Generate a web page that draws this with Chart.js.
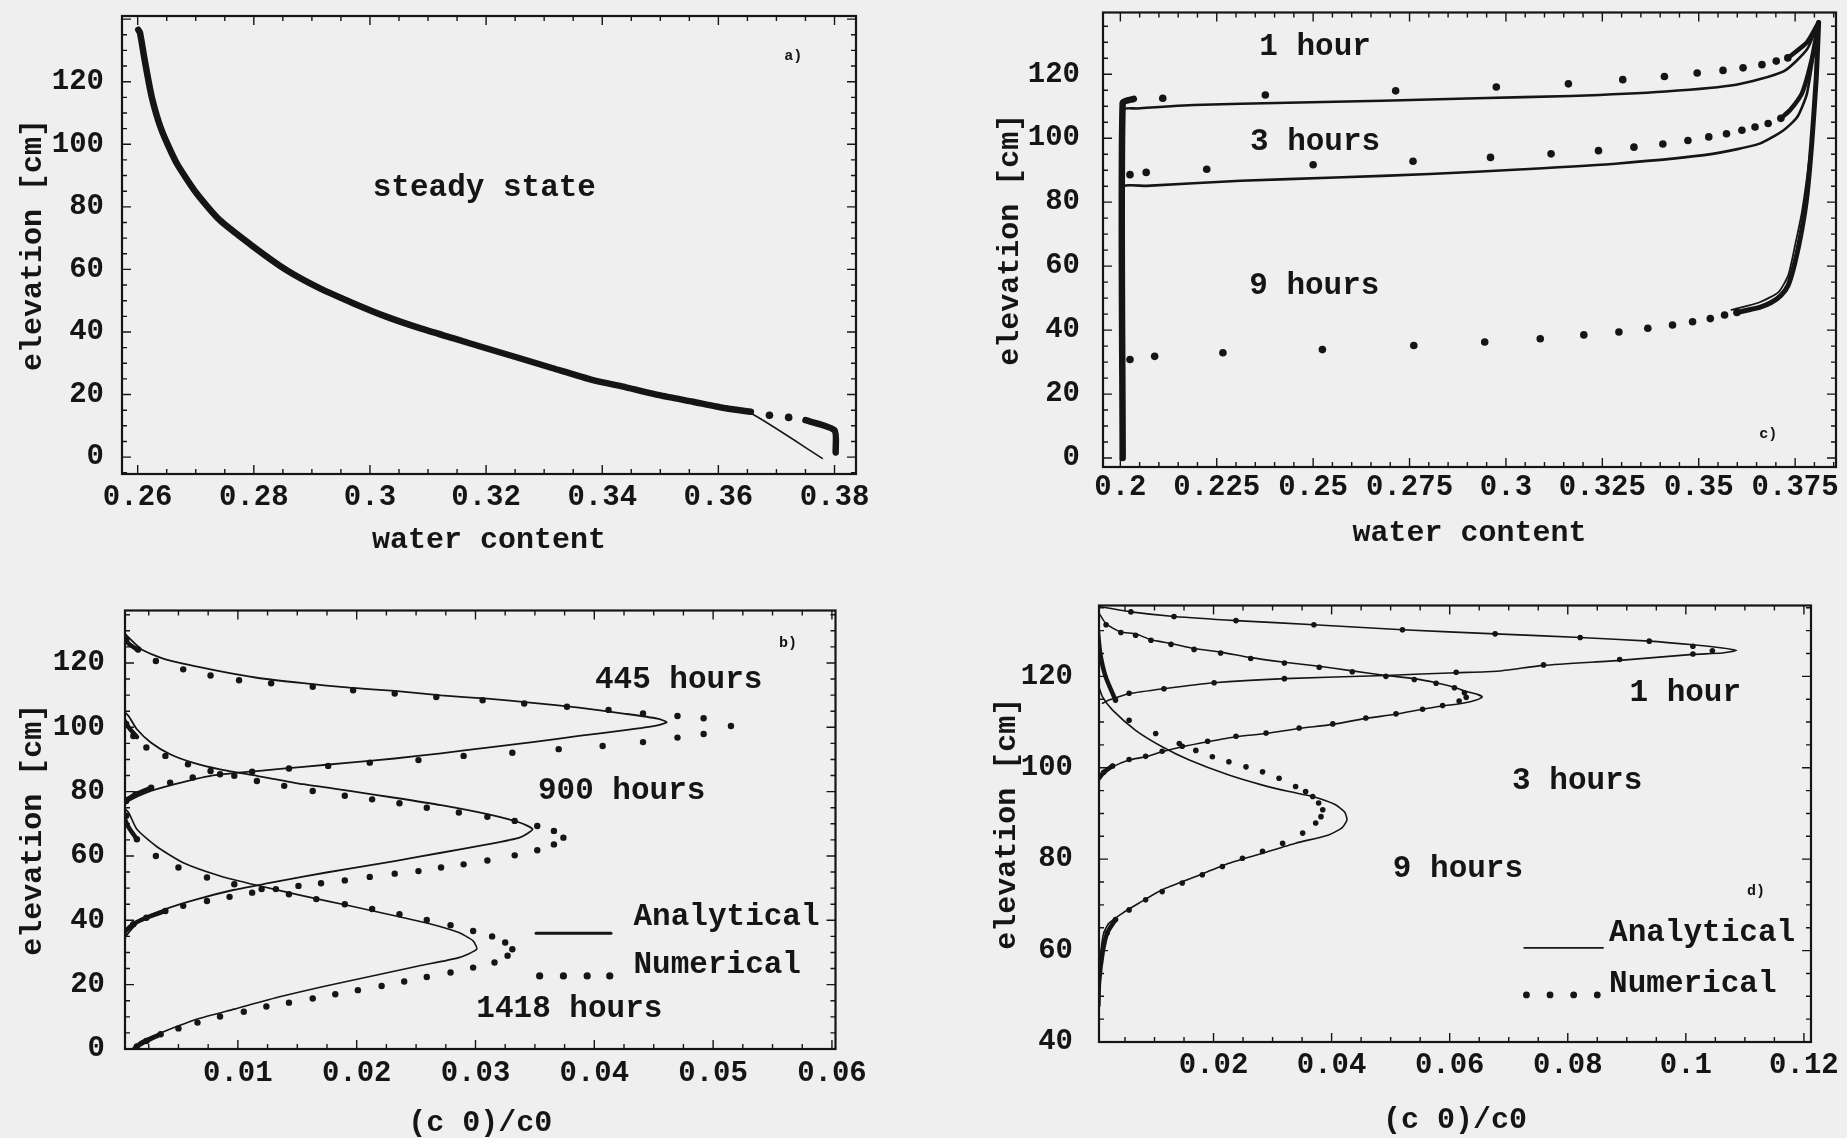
<!DOCTYPE html>
<html>
<head>
<meta charset="utf-8">
<script src="https://cdn.jsdelivr.net/npm/chart.js@4.4.1/dist/chart.umd.min.js"></script>
<style>
  html, body { margin: 0; padding: 0; width: 1847px; height: 1138px; overflow: hidden; background: #efefef; }
  canvas { position: absolute; }
</style>
</head>
<body>
<canvas id="pa" width="940" height="575" style="left:0;top:0"></canvas>
<canvas id="pc" width="887" height="575" style="left:960px;top:0"></canvas>
<canvas id="pb" width="940" height="563" style="left:0;top:575px"></canvas>
<canvas id="pd" width="887" height="563" style="left:960px;top:575px"></canvas>
<script>
// ---- a) steady state: water content vs elevation
const aXTicks = [0.26, 0.28, 0.30, 0.32, 0.34, 0.36, 0.38];
const aYTicks = [0, 20, 40, 60, 80, 100, 120];
const aAnalytical = [[0.2601,136.6],[0.2604,135.6],[0.2612,127.0],[0.2624,115.3],[0.2641,104.6],[0.2667,94.0],[0.2701,84.4],[0.2741,75.8],[0.2799,67.3],[0.2856,59.8],[0.2913,54.0],[0.2971,49.2],[0.3028,44.9],[0.3086,41.2],[0.3143,38.0],[0.3200,34.8],[0.3258,31.6],[0.3315,28.4],[0.3384,24.6],[0.3441,22.3],[0.3498,19.8],[0.3556,17.7],[0.3613,15.6],[0.3656,14.0],[0.3779,-0.4]];
const aNumBand = [[0.2601,136.6],[0.2604,135.6],[0.2612,127.0],[0.2624,115.3],[0.2641,104.6],[0.2667,94.0],[0.2701,84.4],[0.2741,75.8],[0.2799,67.3],[0.2856,59.8],[0.2913,54.0],[0.2971,49.2],[0.3028,44.9],[0.3086,41.2],[0.3143,38.0],[0.3200,34.8],[0.3258,31.6],[0.3315,28.4],[0.3384,24.6],[0.3441,22.3],[0.3498,19.8],[0.3556,17.7],[0.3613,15.6],[0.3656,14.5]];
const aNumDots = [[0.3688,13.4],[0.3721,12.7]];
const aNumFoot = [[0.3750,11.8],[0.3800,8.6],[0.3802,1.5]];
const aNotes = [["steady state", 0.3197, 85.9, 31], ["a)", 0.3729, 128.2, 15]];

// ---- c) water content at 1, 3, 9 hours
const cXTicks = [0.2, 0.225, 0.25, 0.275, 0.3, 0.325, 0.35, 0.375];
const cYTicks = [0, 20, 40, 60, 80, 100, 120];
const cAna1 = [[0.2006,0],[0.2006,108.8],[0.2043,109.3],[0.219,110.4],[0.2434,111.1],[0.2679,111.7],[0.2924,112.5],[0.3169,113.2],[0.3414,114.6],[0.3597,116.7],[0.372,120.9],[0.3781,127.8],[0.3811,136.2]];
const cAna3 = [[0.2006,0],[0.2006,84.5],[0.2067,85.1],[0.2312,86.7],[0.2557,87.7],[0.2802,88.8],[0.3046,90.3],[0.3291,92.1],[0.3536,95.1],[0.3658,98.3],[0.372,102.5],[0.3756,106.7],[0.3781,114.1],[0.3811,136.2]];
const cAna9 = [[0.3585,46.3],[0.3658,48.7],[0.3707,51.9],[0.3732,57.1],[0.375,66.6],[0.3768,77.2],[0.3786,93.0],[0.3799,108.8],[0.3811,136.2]];
const cStem = [[0.2006,0],[0.2006,111],[0.2035,112.3]];
const cNum1 = [[0.211,112.5],[0.2376,113.5],[0.2714,114.8],[0.2975,116.0],[0.3162,117.0],[0.3303,118.3],[0.3411,119.3],[0.3496,120.4],[0.3563,121.2],[0.3615,122.0],[0.3664,123.0],[0.3701,124.1],[0.3731,125.1]];
const cNum1Band = [[0.3731,125.1],[0.3781,130],[0.3811,136.2]];
const cNum3 = [[0.2025,88.6],[0.2067,89.3],[0.2224,90.3],[0.25,91.7],[0.2759,92.8],[0.296,94.0],[0.3117,95.1],[0.324,96.1],[0.3332,97.2],[0.3407,98.2],[0.3472,99.3],[0.3526,100.4],[0.3572,101.4],[0.3612,102.5],[0.3646,103.5],[0.368,104.6],[0.3713,106.2]];
const cNum3Band = [[0.3713,106.2],[0.3737,108.8],[0.3768,114.1],[0.3793,124.6],[0.3811,136.2]];
const cNum9 = [[0.2025,30.8],[0.2089,31.8],[0.2266,32.9],[0.2524,33.9],[0.2761,35.2],[0.2945,36.3],[0.3089,37.3],[0.3202,38.5],[0.3293,39.4],[0.3368,40.6],[0.3432,41.6],[0.3484,42.6],[0.353,43.6],[0.3567,44.7],[0.3599,45.5]];
const cNum9Band = [[0.3599,45.5],[0.3628,46.3],[0.3658,47.1],[0.3689,48.7],[0.3713,50.8],[0.3732,54.0],[0.375,61.4],[0.3768,71.9],[0.3781,82.4],[0.3793,98.3],[0.3805,119.3],[0.3811,136.2]];
const cNotes = [["1 hour", 0.2505, 128.5, 31], ["3 hours", 0.2505, 98.8, 31], ["9 hours", 0.2503, 53.7, 31], ["c)", 0.368, 7.4, 15]];

// ---- b) concentration at 445, 900, 1418 hours
const bXTicks = [0.01, 0.02, 0.03, 0.04, 0.05, 0.06];
const bYTicks = [0, 20, 40, 60, 80, 100, 120];
const bAna445 = [[0.0004,129.5],[0.0008,127.9],[0.0019,124.2],[0.0039,121.1],[0.0077,118.0],[0.0116,115.4],[0.0155,113.7],[0.0194,112.3],[0.0232,111.3],[0.0271,109.9],[0.031,108.9],[0.0348,107.6],[0.0387,106.1],[0.0426,104.2],[0.0453,102.7],[0.0461,101.6],[0.0453,100.6],[0.0426,99.1],[0.0387,97.3],[0.0348,95.4],[0.031,93.7],[0.0271,91.9],[0.0232,90.3],[0.0194,89.0],[0.0155,87.7],[0.0116,86.4],[0.0077,84.9],[0.0047,82.3],[0.0023,79.7],[0.0008,77.1],[0.0004,75.5]];
const bNum445 = [[0.0006,127.3],[0.0016,124.2],[0.0031,120.6],[0.0054,118.0],[0.0077,116.1],[0.0101,114.6],[0.0128,113.7],[0.0163,112.6],[0.0197,111.5],[0.0232,110.5],[0.0267,109.4],[0.0306,108.4],[0.0341,107.4],[0.0377,106.4],[0.0412,105.4],[0.0441,104.3],[0.047,103.5],[0.0492,102.8],[0.0515,100.4],[0.0492,97.9],[0.047,96.8],[0.0441,95.4],[0.0407,94.2],[0.037,93.2],[0.0331,92.1],[0.029,91.1],[0.0252,89.8],[0.0211,89.0],[0.0176,88.0],[0.0143,87.2],[0.0112,86.2],[0.0085,85.4],[0.0062,84.4],[0.0043,82.8],[0.0027,81.2],[0.0014,79.2],[0.0006,77.1]];
const bAna900 = [[0.0004,105],[0.0008,103.5],[0.0015,99.4],[0.0027,95.2],[0.0043,91.6],[0.0062,89.0],[0.0085,86.9],[0.0116,84.9],[0.0155,82.3],[0.0194,80.2],[0.0232,78.1],[0.0271,75.8],[0.031,73.0],[0.0337,70.4],[0.0348,68.3],[0.0337,65.7],[0.031,63.6],[0.0271,61.0],[0.0232,58.4],[0.0194,56.1],[0.0155,53.6],[0.0128,51.7],[0.0097,49.5],[0.0066,46.6],[0.0039,43.5],[0.0019,40.3],[0.0008,36.2],[0.0004,34]];
const bNum900 = [[0.0006,101.0],[0.0012,97.3],[0.0023,93.7],[0.0039,91.1],[0.0058,88.5],[0.0077,86.4],[0.0097,84.9],[0.0116,83.3],[0.0139,81.8],[0.0163,80.2],[0.019,78.7],[0.0213,77.6],[0.0236,76.4],[0.0259,75.0],[0.0286,73.5],[0.031,72.2],[0.0333,70.9],[0.0352,69.3],[0.0366,67.8],[0.0374,65.7],[0.0366,63.6],[0.0352,61.8],[0.0333,60.2],[0.031,58.6],[0.029,57.4],[0.0271,56.4],[0.0252,55.3],[0.0232,54.5],[0.0211,53.5],[0.019,52.4],[0.017,51.5],[0.0151,50.7],[0.0132,49.7],[0.0112,48.6],[0.0093,47.3],[0.0074,46.0],[0.0054,44.5],[0.0039,42.9],[0.0023,40.8],[0.0012,38.8],[0.0004,36.2]];
const bAna1418 = [[0.0004,75],[0.0008,73.5],[0.0015,68.3],[0.0031,63.1],[0.0054,57.9],[0.0085,53.8],[0.0116,50.9],[0.0155,47.6],[0.0194,44.5],[0.0232,41.4],[0.0263,38.8],[0.0286,36.2],[0.0298,33.6],[0.0301,31.0],[0.0286,28.4],[0.0252,25.8],[0.0213,22.7],[0.0174,19.6],[0.0136,16.3],[0.0097,12.4],[0.0066,9.3],[0.0039,5.6],[0.0019,2.5],[0.0012,0.5]];
const bNum1418 = [[0.0006,72.5],[0.0015,65.2],[0.0031,60.0],[0.005,56.4],[0.0074,53.3],[0.0097,51.2],[0.012,49.7],[0.0143,48.1],[0.0166,46.6],[0.019,45.0],[0.0213,43.5],[0.0236,41.9],[0.0259,40.1],[0.0279,38.5],[0.0298,36.7],[0.0314,35.0],[0.0325,33.1],[0.0331,31.0],[0.0327,29.0],[0.0316,26.9],[0.0298,25.3],[0.0279,23.8],[0.0259,22.4],[0.024,21.0],[0.0221,19.6],[0.0201,18.3],[0.0182,17.0],[0.0163,15.7],[0.0143,14.4],[0.0124,13.2],[0.0105,11.6],[0.0085,10.1],[0.0066,8.2],[0.005,6.4],[0.0035,4.6],[0.0023,2.5],[0.0015,0.8]];
const bTails = [[[0.0003,128.5],[0.0008,126],[0.0016,124]], [[0.0027,81.2],[0.0014,79.2],[0.0004,77]], [[0.0003,103],[0.0008,100],[0.0015,97]], [[0.0039,42.9],[0.0023,40.8],[0.0012,38.8],[0.0004,36.2]], [[0.0003,73],[0.0008,69],[0.0015,65.2]], [[0.0035,4.6],[0.0023,2.5],[0.0015,0.8]]];
const bKeyLine = [[0.0351,36.0],[0.0414,36.0]];
const bKeyDots = [[0.0354,22.7],[0.0374,22.7],[0.0394,22.7],[0.0413,22.7]];
const bNotes = [["445 hours", 0.0471, 114.6, 31], ["900 hours", 0.0423, 80.2, 31], ["1418 hours", 0.0379, 12.5, 31], ["b)", 0.0563, 126.1, 15], ["Analytical", 0.0433, 41.1, 31, "left"], ["Numerical", 0.0433, 26.0, 31, "left"]];

// ---- d) concentration at 1, 3, 9 hours
const dXTicks = [0.02, 0.04, 0.06, 0.08, 0.1, 0.12];
const dYTicks = [40, 60, 80, 100, 120];
const dAna1 = [[0.0005,135.3],[0.006,134.1],[0.0133,133.1],[0.0238,132.2],[0.037,131.3],[0.052,130.2],[0.0677,129.3],[0.0821,128.5],[0.0938,127.7],[0.1012,126.9],[0.1062,126.2],[0.1086,125.7],[0.1062,125.1],[0.1012,124.8],[0.0888,123.5],[0.0759,122.4],[0.0679,121.1],[0.0611,120.8],[0.0492,120.2],[0.032,119.5],[0.0201,118.6],[0.0116,117.3],[0.0057,116.2],[0.0023,114.8],[0.0012,114.1]];
const dNum1 = [[0.006,134.1],[0.0133,133.1],[0.0238,132.2],[0.037,131.3],[0.052,130.2],[0.0677,129.3],[0.0821,128.5],[0.0938,127.7],[0.1012,126.6],[0.1045,125.6],[0.1012,124.9],[0.0888,123.7],[0.0759,122.5],[0.0611,120.9],[0.032,119.5],[0.0201,118.6],[0.0116,117.3],[0.0057,116.3]];
const dAna3 = [[0.0003,134.5],[0.0018,131.5],[0.0043,129.7],[0.0068,129.3],[0.0094,128.0],[0.0128,127.2],[0.0167,126.1],[0.0212,125.3],[0.0263,124.1],[0.032,123.1],[0.0379,122.2],[0.0435,121.2],[0.0492,120.2],[0.054,119.5],[0.0577,118.6],[0.0608,117.6],[0.0625,116.8],[0.0648,116.0],[0.0655,115.5],[0.0645,114.8],[0.0622,114.1],[0.0588,113.5],[0.0554,112.8],[0.0509,111.7],[0.0458,110.8],[0.0402,109.5],[0.0345,108.6],[0.0289,107.5],[0.0238,106.8],[0.019,105.7],[0.0147,104.6],[0.0113,103.5],[0.0085,102.4],[0.0057,101.7],[0.0029,100.2],[0.0014,98.8],[0.0005,97.5]];
const dNum3 = [[0.0018,131.3],[0.0043,129.6],[0.0068,129.0],[0.0094,127.9],[0.0128,127.0],[0.0167,125.9],[0.0212,125.1],[0.0263,123.9],[0.032,122.9],[0.0379,122.0],[0.0435,121.0],[0.0492,120.0],[0.054,119.3],[0.0577,118.5],[0.0608,117.5],[0.0625,116.4],[0.0628,115.4],[0.0616,114.6],[0.0588,113.6],[0.0554,112.8],[0.0509,111.8],[0.0458,110.9],[0.0402,109.6],[0.0345,108.7],[0.0289,107.6],[0.0238,106.9],[0.019,105.8],[0.0147,104.7],[0.0113,103.6],[0.0085,102.5],[0.0057,101.8],[0.0029,100.4],[0.0014,99.0]];
const dAna9 = [[0.0005,118],[0.0012,115.5],[0.0029,112.6],[0.0068,108.2],[0.0113,104.6],[0.0159,101.7],[0.0226,98.4],[0.0283,96.2],[0.0328,94.8],[0.0368,93.7],[0.0405,92.0],[0.0422,90.3],[0.0426,88.6],[0.0418,86.9],[0.0395,85.3],[0.0339,83.5],[0.0283,81.3],[0.0226,79.1],[0.017,76.2],[0.0113,73.3],[0.0074,70.4],[0.0046,68.2],[0.0023,66.0],[0.0014,63.9],[0.0009,59.5],[0.0006,54]];
const dNum9 = [[0.0034,114.8],[0.0057,110.4],[0.0102,107.5],[0.0142,105.3],[0.017,103.8],[0.0198,102.4],[0.0226,101.3],[0.0255,100.2],[0.0283,99.1],[0.0311,97.7],[0.0339,95.9],[0.0356,94.8],[0.0368,93.7],[0.0378,92.3],[0.0385,90.8],[0.0382,89.3],[0.0373,87.9],[0.0351,85.7],[0.0317,83.5],[0.0283,81.7],[0.0249,80.2],[0.0215,78.4],[0.0181,76.6],[0.0147,74.8],[0.0113,72.9],[0.0085,71.1],[0.0057,68.9],[0.0034,66.8],[0.002,63.9]];
const dTails = [[[0.0004,130],[0.0008,125],[0.0017,120],[0.0034,114.8]], [[0.0034,66.8],[0.002,63.9],[0.0012,59.5],[0.0006,52.9],[0.0005,48]], [[0.0029,100.4],[0.0014,99.0],[0.0005,97.5]]];
const dKeyLine = [[0.0726,60.6],[0.086,60.6]];
const dKeyDots = [[0.073,50.3],[0.077,50.3],[0.081,50.3],[0.085,50.3]];
const dNotes = [["1 hour", 0.0999, 116.4, 31], ["3 hours", 0.0816, 97.1, 31], ["9 hours", 0.0614, 77.8, 31], ["d)", 0.1119, 72.9, 15], ["Analytical", 0.087, 63.7, 31, "left"], ["Numerical", 0.087, 52.6, 31, "left"]];

const ink = "#151515";
const family = '"Liberation Mono", "DejaVu Sans Mono", monospace';

const pts = arr => arr.map(([x, y]) => ({ x, y }));
const line = (data, w) => ({ data: pts(data), showLine: true, borderColor: ink, borderWidth: w, pointRadius: 0, tension: 0.2, borderJoinStyle: "round", borderCapStyle: "round" });
const dots = (data, r) => ({ data: pts(data), showLine: false, pointRadius: r, pointBackgroundColor: ink, pointBorderWidth: 0 });

// frame box with Mathematica-style inward ticks, plus text notes
const frame = {
  id: "frame",
  afterDatasetsDraw(chart, args, o) {
    const { ctx, chartArea: a, scales: { x, y } } = chart;
    ctx.save();
    ctx.strokeStyle = ink;
    ctx.lineWidth = 2.2;
    ctx.strokeRect(a.left, a.top, a.right - a.left, a.bottom - a.top);
    ctx.lineWidth = 1.4;
    const marks = (axis, majors, sub) => {
      const step = majors[1] - majors[0], out = [];
      for (let i = -1; i <= majors.length; i++) {
        for (let k = 0; k <= sub; k++) {
          const v = majors[0] + i * step + k * step / (sub + 1);
          if (v >= axis.min && v <= axis.max) out.push([axis.getPixelForValue(v), k === 0 ? 9 : 5]);
        }
      }
      return out;
    };
    ctx.beginPath();
    for (const [px, len] of marks(x, o.xTicks, o.xSub)) {
      ctx.moveTo(px, a.bottom); ctx.lineTo(px, a.bottom - len);
      ctx.moveTo(px, a.top); ctx.lineTo(px, a.top + len);
    }
    for (const [py, len] of marks(y, o.yTicks, 3)) {
      ctx.moveTo(a.left, py); ctx.lineTo(a.left + len, py);
      ctx.moveTo(a.right, py); ctx.lineTo(a.right - len, py);
    }
    ctx.stroke();
    ctx.fillStyle = ink;
    ctx.textBaseline = "middle";
    for (const [text, vx, vy, size, align] of o.notes) {
      ctx.font = "bold " + size + "px " + family;
      ctx.textAlign = align || "center";
      ctx.fillText(text, x.getPixelForValue(vx), y.getPixelForValue(vy));
    }
    ctx.restore();
  }
};

function panel(id, p) {
  const tickFont = { family, size: 29, weight: "bold", lineHeight: 1 };
  const titleFont = { family, size: 30, weight: "bold", lineHeight: 1 };
  new Chart(document.getElementById(id), {
    type: "scatter",
    data: { datasets: p.datasets },
    options: {
      responsive: false,
      animation: false,
      events: [],
      layout: { padding: { left: 0, top: p.top, right: p.right, bottom: 0 } },
      plugins: {
        legend: { display: false },
        tooltip: { enabled: false },
        frame: { xTicks: p.xTicks, yTicks: p.yTicks, xSub: p.xSub, notes: p.notes }
      },
      scales: {
        x: {
          type: "linear", min: p.xMin, max: p.xMax,
          afterBuildTicks: ax => { ax.ticks = p.xTicks.map(v => ({ value: v })); },
          afterFit: ax => { ax.height = p.xh; ax.paddingLeft = 0; ax.paddingRight = 0; },
          grid: { display: false }, border: { display: false },
          ticks: { font: tickFont, color: ink, padding: p.xPad, maxRotation: 0, autoSkip: false, callback: v => String(v) },
          title: { display: true, text: p.xTitle, font: titleFont, color: ink, padding: { top: 0, bottom: p.xTitlePad } }
        },
        y: {
          type: "linear", min: p.yMin, max: p.yMax,
          afterBuildTicks: ax => { ax.ticks = p.yTicks.map(v => ({ value: v })); },
          afterFit: ax => { ax.width = p.yw; ax.paddingTop = 0; ax.paddingBottom = 0; },
          grid: { display: false }, border: { display: false },
          ticks: { font: tickFont, color: ink, padding: p.yPad, autoSkip: false, callback: v => String(v) },
          title: { display: true, text: "elevation [cm]", font: titleFont, color: ink, padding: { top: p.yTitlePad, bottom: 0 } }
        }
      }
    },
    plugins: [frame]
  });
}

panel("pa", {
  xMin: 0.2573, xMax: 0.3837, yMin: -5.4, yMax: 141,
  xTicks: aXTicks, yTicks: aYTicks, xSub: 3, notes: aNotes,
  top: 16, right: 84, xh: 101, yw: 122, xPad: 1, yPad: 10, xTitlePad: 20, yTitlePad: 18,
  xTitle: "water content",
  datasets: [line(aAnalytical, 1.6), line(aNumBand, 6.5), line(aNumFoot, 6.5), dots(aNumDots, 3.8)]
});

panel("pc", {
  xMin: 0.1955, xMax: 0.3856, yMin: -2.8, yMax: 139.3,
  xTicks: cXTicks, yTicks: cYTicks, xSub: 4, notes: cNotes,
  top: 12.5, right: 11, xh: 108, yw: 143, xPad: -2, yPad: 15, xTitlePad: 27, yTitlePad: 35,
  xTitle: "water content",
  datasets: [
    line(cAna1, 2.6), line(cAna3, 2.6), line(cAna9, 1.8), line(cStem, 6.5),
    line(cNum1Band, 4.5), line(cNum3Band, 4.5), line(cNum9Band, 5),
    dots(cNum1, 3.8), dots(cNum3, 3.8), dots(cNum9, 3.8)
  ]
});

panel("pb", {
  xMin: 0.0005, xMax: 0.0603, yMin: 0, yMax: 136.3,
  xTicks: bXTicks, yTicks: bYTicks, xSub: 3, notes: bNotes,
  top: 35.5, right: 104.5, xh: 89, yw: 125, xPad: 2, yPad: 12, xTitlePad: 0, yTitlePad: 18,
  xTitle: "(c 0)/c0",
  datasets: [
    line(bAna445, 1.8), line(bAna900, 1.8), line(bAna1418, 1.6),
    ...bTails.map(t => line(t, 4.5)),
    dots(bNum445, 3.2), dots(bNum900, 3.2), dots(bNum1418, 3.2),
    line(bKeyLine, 3), dots(bKeyDots, 3.6)
  ]
});

panel("pd", {
  xMin: 0.0006, xMax: 0.1212, yMin: 40, yMax: 135.5,
  xTicks: dXTicks, yTicks: dYTicks, xSub: 3, notes: dNotes,
  top: 30.5, right: 36, xh: 96, yw: 139, xPad: 1.5, yPad: 18, xTitlePad: 3, yTitlePad: 32,
  xTitle: "(c 0)/c0",
  datasets: [
    line(dAna1, 1.6), line(dAna3, 1.6), line(dAna9, 1.6),
    ...dTails.map(t => line(t, 4.5)),
    dots(dNum1, 2.8), dots(dNum3, 2.8), dots(dNum9, 2.8),
    line(dKeyLine, 1.6), dots(dKeyDots, 3.4)
  ]
});
</script>
</body>
</html>
